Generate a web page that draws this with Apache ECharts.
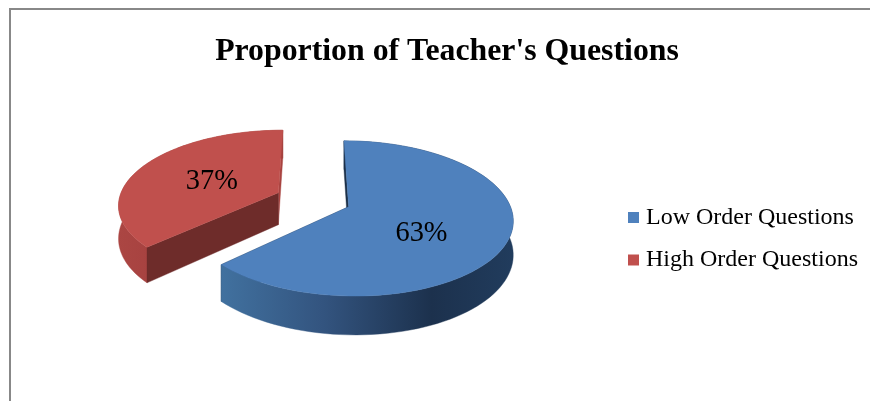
<!DOCTYPE html>
<html>
<head>
<meta charset="utf-8">
<style>html,body{margin:0;padding:0;background:#fff}#c{width:870px;height:401px}</style>
<script src="https://cdn.jsdelivr.net/npm/echarts@6/dist/echarts.min.js"></script>
</head>
<body>
<div id="c"></div>
<script>
const categories = ['Low Order Questions', 'High Order Questions'];
const values = [63, 37];
const titleText = "Proportion of Teacher's Questions";
const topColors = ['#4F81BD', '#C0504D'];
const FONT = '"Liberation Serif","Times New Roman",serif';

const total = values.reduce((a, b) => a + b, 0);
const view = { x0: 313, y0: 199.6, A: 159.5, B: 73.7, k: 0.149, explode: 0.24, h: 32.5 };

function project(X, S, drop) {
  const den = 1 - view.k * S;
  return [view.x0 + view.A * X / den, view.y0 + view.B * S / den + (drop ? view.h / den : 0)];
}
function rad(d) { return d * Math.PI / 180; }

function sliceShapes(index, color, value) {
  let before = 0;
  for (let i = 0; i < index; i++) before += values[i];
  const a0 = -90 + 360 * before / total;
  const a1 = a0 + 360 * value / total;
  const mid = (a0 + a1) / 2;
  const ox = view.explode * Math.cos(rad(mid));
  const oy = view.explode * Math.sin(rad(mid));
  const arc = (drop) => {
    const pts = [];
    const n = 96;
    for (let i = 0; i <= n; i++) {
      const t = rad(a0 + (a1 - a0) * i / n);
      pts.push(project(ox + Math.cos(t), oy + Math.sin(t), drop));
    }
    return pts;
  };
  const edge = (ang, drop) => project(ox + Math.cos(rad(ang)), oy + Math.sin(rad(ang)), drop);
  const apexTop = project(ox, oy, false);
  const apexLow = project(ox, oy, true);
  const topArc = arc(false);
  const lowArc = arc(true);
  const isBlue = index === 0;
  const wallFill = isBlue
    ? new echarts.graphic.LinearGradient(0, 0, 1, 0, [
        { offset: 0, color: '#41719F' },
        { offset: 0.35, color: '#33547F' },
        { offset: 0.72, color: '#1C314D' },
        { offset: 1, color: '#213C5D' }])
    : new echarts.graphic.LinearGradient(0, 0, 1, 0, [
        { offset: 0, color: '#AB4643' },
        { offset: 0.2, color: '#A74240' },
        { offset: 1, color: '#A33F3C' }]);
  const startWall = isBlue ? '#1C3048' : '#6E2C2A';
  const endWall = isBlue ? '#1C3048' : '#A84340';
  const children = [];
  const poly = (points, fill) => children.push({
    type: 'polygon', shape: { points }, style: { fill, stroke: fill, lineWidth: 0.4 } });
  // end-angle wall, outer wall, start-angle wall, top face
  poly([apexTop, edge(a1, false), edge(a1, true), apexLow], endWall);
  poly(topArc.concat(lowArc.slice().reverse()), wallFill);
  poly([apexTop, edge(a0, false), edge(a0, true), apexLow], startWall);
  poly([apexTop].concat(topArc), color);
  const r = 0.47;
  const lp = project(ox + r * Math.cos(rad(mid)), oy + r * Math.sin(rad(mid)), false);
  children.push({
    type: 'text',
    style: {
      x: lp[0] + (isBlue ? 0 : -1.5), y: lp[1] + (isBlue ? 12 : 1.5),
      text: Math.round(100 * value / total) + '%',
      font: '28.4px ' + FONT, fill: '#000', align: 'center', verticalAlign: 'middle'
    }
  });
  return { type: 'group', children };
}

const series = categories.map((name, i) => ({
  type: 'custom',
  name,
  coordinateSystem: 'none',
  data: [[values[i]]],
  itemStyle: { color: topColors[i] },
  silent: true,
  animation: false,
  renderItem: (params, api) => sliceShapes(i, topColors[i], api.value(0))
}));

const chart = echarts.init(document.getElementById('c'), null, { renderer: 'canvas' });
chart.setOption({
  animation: false,
  backgroundColor: '#fff',
  title: {
    text: titleText, left: 442, top: 31, textAlign: 'center',
    textStyle: { fontFamily: FONT, fontWeight: 'bold', fontSize: 31.8, color: '#000' }
  },
  legend: {
    orient: 'vertical', left: 628, top: 205.5, icon: 'rect',
    itemWidth: 11, itemHeight: 11, itemGap: 18.5, padding: 0,
    data: categories,
    textStyle: { fontFamily: FONT, fontSize: 24, color: '#000', padding: [0, 0, 0, 2] }
  },
  graphic: [
    { type: 'line', shape: { x1: 10, y1: 9, x2: 10, y2: 401 }, style: { stroke: '#888', lineWidth: 2 } },
    { type: 'line', shape: { x1: 9, y1: 9, x2: 870, y2: 9 }, style: { stroke: '#888', lineWidth: 2 } }
  ],
  series
});
</script>
</body>
</html>
